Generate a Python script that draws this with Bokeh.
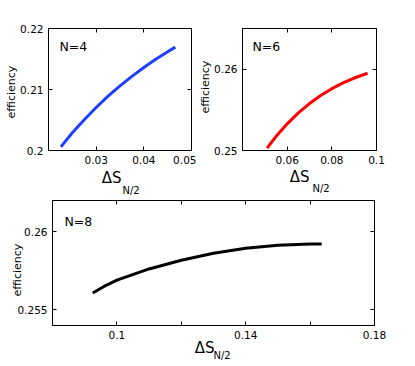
from bokeh.plotting import figure
from bokeh.models import LinearAxis, FixedTicker, PrintfTickFormatter, Range1d, Title, Label, CustomJSTickFormatter
from bokeh.layouts import column, row
from bokeh.embed import file_html
from bokeh.resources import INLINE

FONT = "DejaVu Sans"

# ---------------- data ----------------
# N=4
n4_ds = [0.0226, 0.025, 0.0275, 0.030, 0.0325, 0.035, 0.0375, 0.040, 0.0425, 0.045, 0.0466]
n4_eff = [0.2006, 0.2029, 0.20505, 0.20705, 0.2089, 0.2106, 0.21215, 0.2136, 0.21495, 0.2162, 0.21695]
# N=6
n6_ds = [0.051, 0.055, 0.060, 0.065, 0.070, 0.075, 0.080, 0.085, 0.090, 0.096]
n6_eff = [0.2503, 0.25172, 0.25328, 0.25462, 0.25577, 0.25676, 0.2576, 0.25831, 0.25891, 0.2595]
# N=8
n8_ds = [0.0925, 0.096, 0.100, 0.110, 0.120, 0.130, 0.140, 0.150, 0.160, 0.1636]
n8_eff = [0.25608, 0.25650, 0.25690, 0.25762, 0.25818, 0.25862, 0.25894, 0.25914, 0.25922, 0.25922]

# ticks / labels
p1_xticks = [0.03, 0.04, 0.05]
p1_xlabels = ["0.03", "0.04", "0.05"]
p1_yticks = [0.2, 0.21, 0.22]
p1_ylabels = ["0.2", "0.21", "0.22"]
p2_xticks = [0.06, 0.08, 0.1]
p2_xlabels = ["0.06", "0.08", "0.1"]
p2_yticks = [0.25, 0.26]
p2_ylabels = ["0.25", "0.26"]
p3_xticks = [0.1, 0.14, 0.18]
p3_xminor = [0.12, 0.16]
p3_xlabels = ["0.1", "0.14", "0.18"]
p3_yticks = [0.255, 0.26]
p3_ylabels = ["0.255", "0.26"]

titles = ["N=4", "N=6", "N=8"]
colors = ["#1f3fff", "#ff0000", "#000000"]


def style_axis(ax, ticks, labels, minor, show_labels=True):
    ax.ticker = FixedTicker(ticks=ticks, minor_ticks=minor)
    ax.axis_line_color = "black"
    ax.major_tick_line_color = "black"
    ax.minor_tick_line_color = "black"
    ax.major_tick_in = 4
    ax.major_tick_out = 0
    ax.minor_tick_in = 4
    ax.minor_tick_out = 0
    if show_labels:
        ax.formatter = PrintfTickFormatter(format="%g")
        ax.major_label_overrides = {t: l for t, l in zip(ticks, labels)}
        ax.major_label_text_font = FONT
        ax.major_label_text_color = "black"
        ax.major_label_text_font_size = "10.5px"
        ax.major_label_standoff = 5
    else:
        ax.formatter = CustomJSTickFormatter(code="return ''")
        ax.major_label_standoff = 0


def panel(xs, ys, color, title, xr, yr, xt, xl, xminor, yt, yl,
          w, h, bl, br, bt, bb, title_off, eff, ds):
    p = figure(width=w, height=h, x_range=Range1d(*xr), y_range=Range1d(*yr),
               output_backend="svg", toolbar_location=None,
               min_border_left=bl, min_border_right=br,
               min_border_top=bt, min_border_bottom=bb)
    p.background_fill_color = "white"
    p.border_fill_color = "white"
    p.grid.visible = False
    p.outline_line_color = "black"
    p.outline_line_width = 1
    p.outline_line_alpha = 1
    p.line(xs, ys, line_color=color, line_width=3)

    style_axis(p.xaxis[0], xt, xl, xminor)
    style_axis(p.yaxis[0], yt, yl, [])
    top = LinearAxis()
    style_axis(top, xt, xl, xminor, show_labels=False)
    right = LinearAxis()
    style_axis(right, yt, yl, [], show_labels=False)
    p.add_layout(top, "above")
    p.add_layout(right, "right")

    p.add_layout(Label(x=xr[0], y=yr[1], x_offset=title_off[0], y_offset=-title_off[1],
                       text=title, text_font=FONT, text_font_size="12.5px",
                       text_color="black", text_baseline="alphabetic", text_align="left"))
    # y label: efficiency
    p.add_layout(Title(text="efficiency", align="left", offset=eff[0], standoff=eff[1],
                       vertical_align="bottom", text_font=FONT, text_font_size="11px",
                       text_font_style="normal", text_color="black"), "left")
    # x label: ΔS with subscript N/2
    p.add_layout(Title(text="ΔS", align="right", offset=ds[0], standoff=ds[1],
                       vertical_align="top", text_font=FONT, text_font_size="15px",
                       text_font_style="normal", text_color="black"), "below")
    p.add_layout(Title(text="N/2", align="left", offset=ds[2], standoff=ds[3],
                       vertical_align="top", text_font=FONT, text_font_size="10px",
                       text_font_style="normal", text_color="black"), "below")
    return p


p1 = panel(n4_ds, n4_eff, colors[0], titles[0], (0.02, 0.05), (0.2, 0.22),
           p1_xticks, p1_xlabels, [], p1_yticks, p1_ylabels,
           196, 196, 48, 5, 27, 46, (11, 18), (32, 0), (70, 4, 74, -12))
p2 = panel(n6_ds, n6_eff, colors[1], titles[1], (0.04, 0.1), (0.25, 0.265),
           p2_xticks, p2_xlabels, [], p2_yticks, p2_ylabels,
           200, 196, 43, 20, 28, 43, (10, 18), (37, 0), (67, 2, 70, -12))
p3 = panel(n8_ds, n8_eff, colors[2], titles[2], (0.08, 0.18), (0.254, 0.262),
           p3_xticks, p3_xlabels, p3_xminor, p3_yticks, p3_ylabels,
           394, 170, 52, 20, 4, 41, (12, 21), (29, -18), (160, -6, 161, -12))

layout = column(row(p1, p2), p3)
open("out.html", "w").write(file_html(layout, INLINE))
